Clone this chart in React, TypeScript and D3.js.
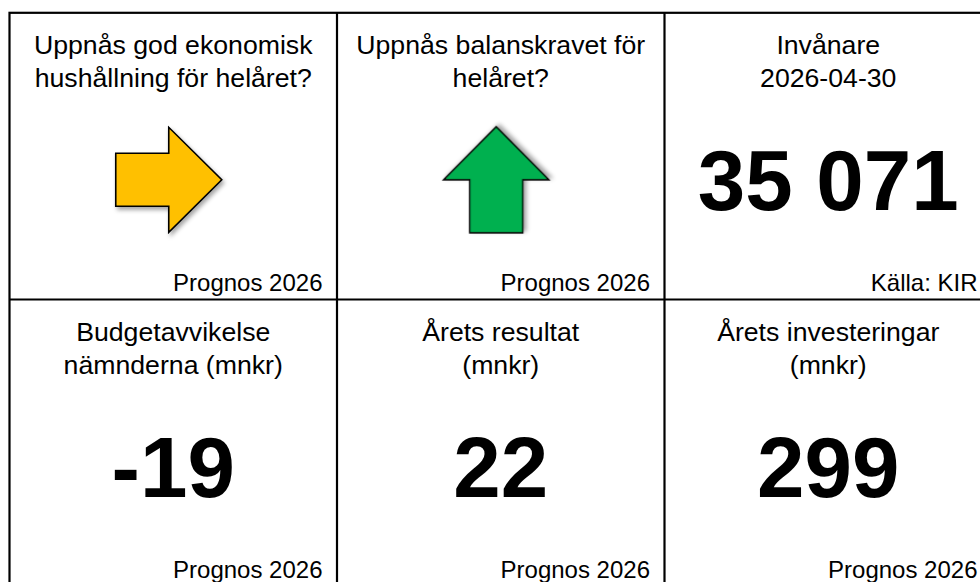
import React from "react";
import * as d3 from "d3";

// ---- data ----
const titles: string[][] = [
  ["Uppnås god ekonomisk", "hushållning för helåret?"],
  ["Uppnås balanskravet för", "helåret?"],
  ["Invånare", "2026-04-30"],
  ["Budgetavvikelse", "nämnderna (mnkr)"],
  ["Årets resultat", "(mnkr)"],
  ["Årets investeringar", "(mnkr)"],
];
const values: (number | null)[] = [null, null, 35071, -19, 22, 299];
const statuses: (string | null)[] = ["neutral", "good", null, null, null, null];
const footers: string[] = [
  "Prognos 2026",
  "Prognos 2026",
  "Källa: KIR",
  "Prognos 2026",
  "Prognos 2026",
  "Prognos 2026",
];

const statusColor: Record<string, string> = { neutral: "#FFC000", good: "#00B050", bad: "#FF0000" };
const statusAngle: Record<string, number> = { neutral: 0, good: -90, bad: 90 };

const W = 980;
const H = 582;

const locale = d3.formatLocale({
  decimal: ",",
  thousands: " ",
  grouping: [3],
  currency: ["", " kr"],
  minus: "-",
});
const fmt = locale.format(",d");

export default function App() {
  const cols = d3.scaleBand<number>().domain([0, 1, 2]).range([9.5, 992]).padding(0);
  const rows = d3.scaleBand<number>().domain([0, 1]).range([12.8, 586.2]).padding(0);
  const cw = cols.bandwidth();
  const rh = rows.bandwidth();

  // unit arrow pointing right, centred on origin
  const half = 53;
  const shaft = 26.5;
  const arrowPts: [number, number][] = [
    [-half, -shaft],
    [0, -shaft],
    [0, -half + 0.5],
    [half, 0],
    [0, half - 0.5],
    [0, shaft],
    [-half, shaft],
  ];
  const line = d3.line();
  const arrowPath = line(arrowPts) + "Z";

  const font = "'Liberation Sans', Arial, Helvetica, sans-serif";

  return (
    <svg
      width={W}
      height={H}
      style={{ position: "absolute", left: 0, top: 0, background: "#fff" }}
      fontFamily={font}
    >
      <defs>
        <filter id="shadow" x="-30%" y="-30%" width="160%" height="160%">
          <feDropShadow dx="2" dy="3" stdDeviation="2" floodColor="#000" floodOpacity="0.35" />
        </filter>
      </defs>
      <rect width={W} height={H} fill="#fff" />
      {titles.map((t, i) => {
        const c = i % 3;
        const r = Math.floor(i / 3);
        const x0 = cols(c)!;
        const y0 = rows(r)!;
        const cx = x0 + cw / 2;
        const st = statuses[i];
        const v = values[i];
        return (
          <g key={i}>
            {t.map((ln, k) => (
              <text
                key={k}
                x={cx}
                y={y0 + 41.5 + k * 33}
                textAnchor="middle"
                fontSize={26.67}
                fill="#000"
              >
                {ln}
              </text>
            ))}
            {st && (
              <path
                d={arrowPath}
                transform={`translate(${cx - 4.5},${y0 + 167}) rotate(${statusAngle[st]})`}
                fill={statusColor[st]}
                stroke="#000"
                strokeWidth={1.6}
                strokeLinejoin="miter"
                filter="url(#shadow)"
              />
            )}
            {v !== null && (
              <text
                x={cx}
                y={y0 + 197}
                textAnchor="middle"
                fontSize={85.33}
                fontWeight="bold"
                fill="#000"
              >
                {fmt(v)}
              </text>
            )}
            <text x={x0 + cw - 14.5} y={y0 + 278} textAnchor="end" fontSize={24} fill="#000">
              {footers[i]}
            </text>
          </g>
        );
      })}
      {/* grid lines */}
      <g stroke="#000" strokeWidth={2.2} fill="none">
        <rect x={cols(0)!} y={rows(0)!} width={cw * 3} height={rh * 2} />
        {[1, 2].map((c) => (
          <line key={"v" + c} x1={cols(c)!} x2={cols(c)!} y1={rows(0)!} y2={rows(1)! + rh} />
        ))}
        <line x1={cols(0)!} x2={cols(2)! + cw} y1={rows(1)!} y2={rows(1)!} />
      </g>
    </svg>
  );
}
